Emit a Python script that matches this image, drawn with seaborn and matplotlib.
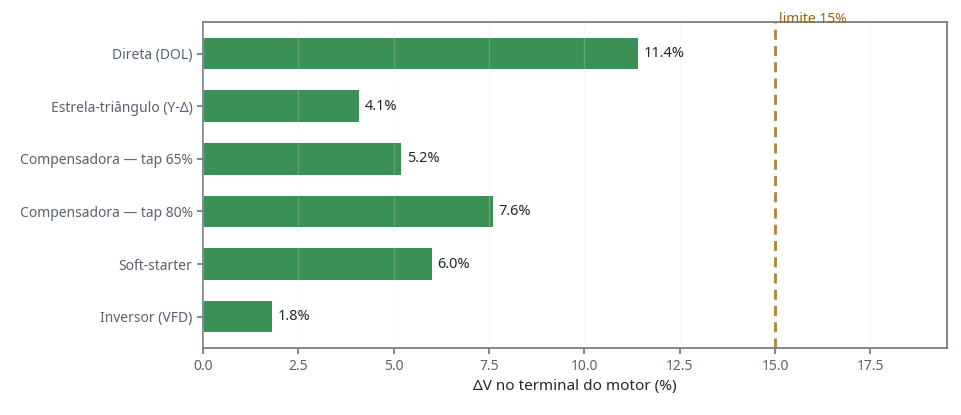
"""Queda de tensão no terminal do motor por método de partida."""
import pandas as pd
import matplotlib.pyplot as plt
import seaborn as sns

METODOS = [
    "Direta (DOL)",
    "Estrela-triângulo (Y-Δ)",
    "Compensadora — tap 65%",
    "Compensadora — tap 80%",
    "Soft-starter",
    "Inversor (VFD)",
]
QUEDA = [11.4, 4.1, 5.2, 7.6, 6.0, 1.8]
LIMITE = 15.0

GREEN = "#3b9155"
GOLD = "#9c6610"
SPINE = "#6b7280"
INK = "#222831"


def main():
    sns.set_theme(style="white")
    plt.rcParams["font.family"] = ["Noto Sans", "DejaVu Sans"]

    data = pd.DataFrame({"metodo": METODOS, "queda": QUEDA})

    fig, ax = plt.subplots(figsize=(9.62, 4.15), dpi=100)
    fig.subplots_adjust(left=0.211, right=0.984, top=0.947, bottom=0.161)

    sns.barplot(data=data, x="queda", y="metodo", color=GREEN, saturation=1,
                width=0.6, linewidth=0, ax=ax)

    for patch, val in zip(ax.patches, QUEDA):
        ax.text(patch.get_width() + 0.15, patch.get_y() + patch.get_height() / 2,
                f"{val:.1f}%", va="center", ha="left", fontsize=10.5, color=INK)

    ax.axvline(LIMITE, color=GOLD, linestyle="--", linewidth=1.8, dashes=(4, 2.5))
    ax.text(LIMITE + 0.1, -0.5, "limite 15%", color=GOLD, fontsize=10,
            ha="left", va="bottom")

    ax.set_xlim(0, 19.5)
    ax.set_ylim(5.6, -0.6)
    ax.set_xticks([0, 2.5, 5, 7.5, 10, 12.5, 15, 17.5])
    ax.set_axisbelow(False)
    ax.grid(axis="x", color="#e5e7eb", alpha=0.25, linewidth=0.8)
    ax.grid(axis="y", visible=False)

    for spine in ax.spines.values():
        spine.set_color(SPINE)
        spine.set_linewidth(1.2)
    ax.tick_params(axis="both", colors=SPINE, length=4, width=1.2,
                   labelsize=10, labelcolor="#5b6270", left=True, bottom=True)

    ax.set_xlabel("ΔV no terminal do motor (%)", fontsize=11, color=INK)
    ax.set_ylabel("")

    fig.savefig("out.png", dpi=100)


if __name__ == "__main__":
    main()
